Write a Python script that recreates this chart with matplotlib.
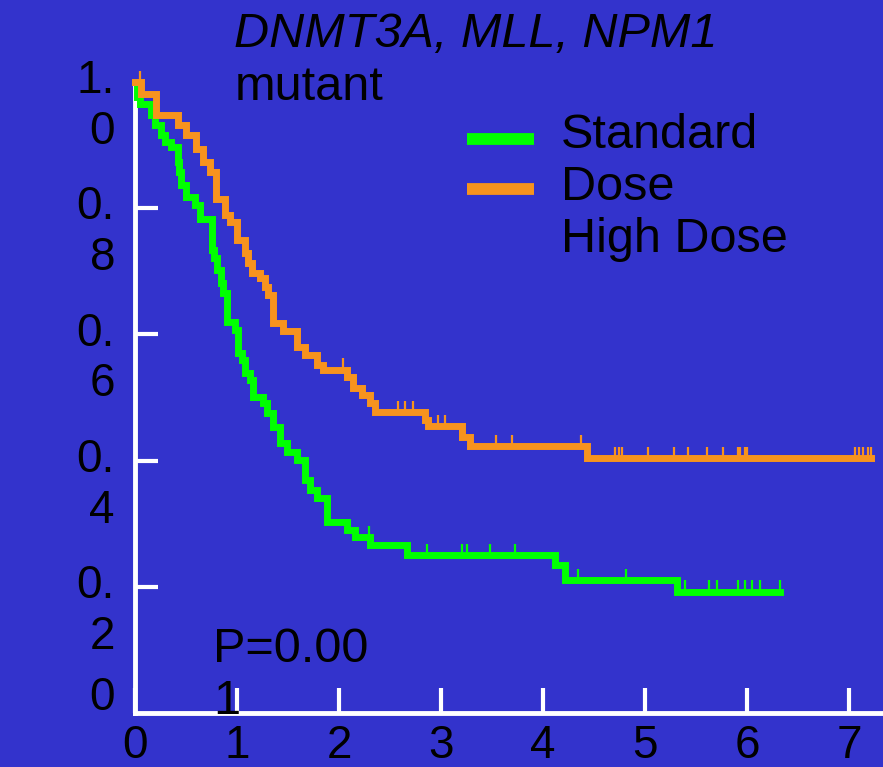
import numpy as np
import matplotlib.pyplot as plt
from matplotlib.lines import Line2D
from matplotlib.transforms import ScaledTranslation

plt.rcParams['font.family'] = ['Liberation Sans', 'DejaVu Sans']

BG = '#3333cc'
GREEN = '#00ff00'
ORANGE = '#f7931e'
FS = 35
TICK_FS = 33

title_genes = 'DNMT3A, MLL, NPM1'
title_sub = 'mutant'
legend_lines = ['Standard', 'Dose', 'High Dose']
p_text = 'P=0.00\n1'

x_ticks = [0, 1, 2, 3, 4, 5, 6, 7]
x_tick_labels = ['0', '1', '2', '3', '4', '5', '6', '7']
y_ticks = [0, 0.2, 0.4, 0.6, 0.8, 1.0]
y_tick_labels = ['0', '0.\n2', '0.\n4', '0.\n6', '0.\n8', '1.\n0']

# standard dose arm: event times (years) and survival after each drop
std_times = [0.02, 0.05, 0.16, 0.20, 0.25, 0.29, 0.35, 0.42, 0.43, 0.45,
             0.50, 0.59, 0.64, 0.75, 0.77, 0.80, 0.84, 0.86, 0.90, 0.98,
             1.01, 1.05, 1.08, 1.13, 1.16, 1.25, 1.29, 1.35, 1.42, 1.49,
             1.59, 1.67, 1.72, 1.78, 1.88, 2.08, 2.16, 2.30, 2.67, 4.12,
             4.22, 5.31]
std_surv = [0.976, 0.965, 0.948, 0.932, 0.916, 0.905, 0.897, 0.873, 0.857, 0.837,
            0.818, 0.805, 0.783, 0.734, 0.721, 0.702, 0.681, 0.666, 0.620, 0.607,
            0.571, 0.559, 0.539, 0.528, 0.501, 0.491, 0.475, 0.453, 0.428, 0.414,
            0.401, 0.369, 0.353, 0.341, 0.303, 0.290, 0.279, 0.266, 0.250, 0.235,
            0.211, 0.192]
std_last = 6.32
std_censored = [1.00, 2.29, 2.86, 3.21, 3.25, 3.48, 3.73, 4.34, 4.81,
                5.39, 5.63, 5.71, 5.91, 5.98, 6.05, 6.13, 6.32]

# high dose arm
high_times = [0.06, 0.21, 0.42, 0.50, 0.60, 0.67, 0.74, 0.79, 0.88, 0.93,
              1.00, 1.08, 1.11, 1.15, 1.23, 1.27, 1.30, 1.35, 1.45, 1.59,
              1.67, 1.78, 1.84, 2.08, 2.14, 2.23, 2.30, 2.35, 2.84, 2.87,
              3.21, 3.28, 4.43]
high_surv = [0.981, 0.948, 0.932, 0.916, 0.894, 0.873, 0.857, 0.815, 0.789, 0.778,
             0.750, 0.729, 0.713, 0.697, 0.689, 0.675, 0.662, 0.618, 0.605, 0.580,
             0.567, 0.552, 0.544, 0.532, 0.515, 0.504, 0.491, 0.477, 0.464, 0.455,
             0.437, 0.423, 0.404]
high_last = 7.22
high_censored = [0.05, 2.04, 2.58, 2.65, 2.73, 2.97, 3.04, 3.54, 3.70, 4.37,
                 4.71, 4.74, 4.77, 5.03, 5.28, 5.42, 5.61, 5.76, 5.91, 5.93,
                 5.98, 6.00, 7.06, 7.10, 7.14, 7.19, 7.22]


def km_curve(ax, times, surv, last, censored, color):
    t = np.r_[0.0, times, last]
    s = np.r_[1.0, surv, surv[-1]]
    ax.step(t, s, where='post', color=color, lw=5, clip_on=False,
            solid_joinstyle='miter', zorder=3)
    # censor marks sit on top of the curve
    c = np.asarray(censored)
    lvl = s[np.searchsorted(t, c, side='right') - 1]
    ax.vlines(c, lvl, lvl + 0.018, colors=color, lw=1.6, clip_on=False, zorder=3)


fig = plt.figure(figsize=(8.83, 7.67), dpi=100, facecolor=BG)
W, H = 883, 767
ax = fig.add_axes([135 / W, 1 - 713 / H, 1 - 135 / W, (713 - 82) / H])
ax.set_facecolor(BG)
ax.set_xlim(0, 7.333)
ax.set_ylim(0, 1)

km_curve(ax, std_times, std_surv, std_last, std_censored, GREEN)
km_curve(ax, high_times, high_surv, high_last, high_censored, ORANGE)

for side in ['top', 'right']:
    ax.spines[side].set_visible(False)
for side in ['left', 'bottom']:
    ax.spines[side].set_color('white')
    ax.spines[side].set_linewidth(3.5)

ax.set_xticks(x_ticks, x_tick_labels)
ax.tick_params(axis='x', direction='in', length=18, width=3, color='white',
               labelsize=TICK_FS, labelcolor='black', pad=8)
ax.set_yticks([v for v in y_ticks if 0 < v < 1])
ax.tick_params(axis='y', direction='in', length=16.5, width=3, color='white',
               labelleft=False)

# wrapped y tick labels; the "0." line sits level with the tick
for v, lab in zip(y_ticks, y_tick_labels):
    dy = -62 if '\n' in lab else 3
    tr = ax.get_yaxis_transform() + ScaledTranslation(-20 / 100, dy / 100, fig.dpi_scale_trans)
    ax.text(0, v, lab, transform=tr, ha='right', va='baseline', ma='right',
            fontsize=TICK_FS, color='black', clip_on=False)

fig.text(234 / W, 1 - 47 / H, title_genes, fontsize=FS, style='italic', va='baseline')
fig.text(235 / W, 1 - 100 / H, title_sub, fontsize=FS, va='baseline')

# legend (labels wrap over three lines)
fig.text(561 / W, 1 - 252 / H, '\n'.join(legend_lines), fontsize=FS, va='baseline')
fig.add_artist(Line2D([467 / W, 534 / W], [1 - 139 / H] * 2, color=GREEN, lw=8.5,
                      solid_capstyle='butt'))
fig.add_artist(Line2D([467 / W, 534 / W], [1 - 189 / H] * 2, color=ORANGE, lw=8.5,
                      solid_capstyle='butt'))

fig.text(213 / W, 1 - 714 / H, p_text, fontsize=FS, va='baseline')

fig.savefig('out.png', dpi=100, facecolor=BG)
